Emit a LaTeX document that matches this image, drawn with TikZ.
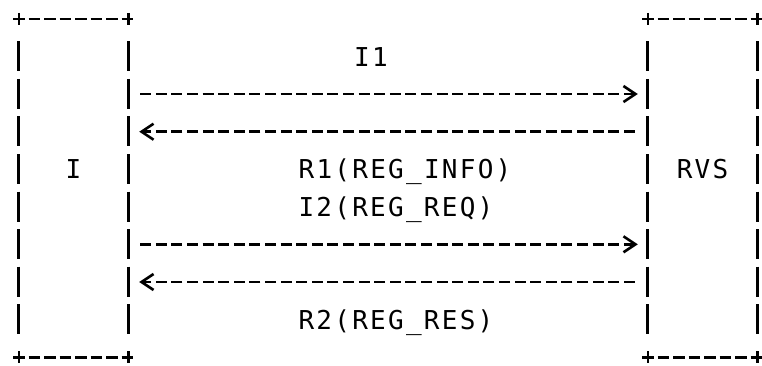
\documentclass[tikz,border=0pt]{standalone}
\usepackage{fontspec}
\setmonofont{DejaVu Sans Mono}[LetterSpace=8.7]
\usetikzlibrary{arrows.meta, positioning}

\newcommand\ttlabel{\ttfamily\fontsize{26}{30}\selectfont}

\begin{document}
\begin{tikzpicture}[
    x=1pt, y=-1pt,
    party/.style={rectangle, minimum width=109pt, minimum height=338pt, inner sep=0pt,
                  text height=19pt, text depth=38pt, font=\ttlabel},
    lbl/.style={inner sep=0pt, anchor=base, font=\ttlabel},
    hedge/.style={line width=2.6pt, dash pattern=on 11.6pt off 3.9pt, shorten <=-5.8pt, shorten >=-5.8pt},
    vedge/.style={line width=2.8pt, dash pattern=on 30pt off 7.56pt, shorten <=22.56pt, shorten >=22.56pt},
    tick/.style={line width=2.6pt},
    msg/.style={line width=2.6pt, dash pattern=on 11pt off 4.6pt, -{Straight Barb[length=12pt,width=16pt,sep=4pt]}},
    msgright/.style={msg, shorten <=12pt, shorten >=6pt},
    msgleft/.style={msg, shorten <=13pt, shorten >=7pt}
]
    \useasboundingbox (0,0) rectangle (762,365);

    % the two parties
    \node[party] (ini) at (73.5,188) {I};
    \node[party] (rvs) at (702.5,188) {RVS};

    % ascii style frames
    \foreach \n in {ini, rvs} {
        \draw[hedge] (\n.north west) -- (\n.north east);
        \draw[hedge] (\n.south west) -- (\n.south east);
        \draw[vedge] (\n.north west) -- (\n.south west);
        \draw[vedge] (\n.north east) -- (\n.south east);
        \foreach \a in {north west, north east, south west, south east}
            \draw[tick] ([yshift=6pt]\n.\a) -- ([yshift=-6pt]\n.\a);
    }

    % messages
    \draw[msgright] ([yshift=94pt]ini.east) -- ([yshift=94pt]rvs.west);
    \draw[msgleft] ([yshift=56.3pt]rvs.west) -- ([yshift=56.3pt]ini.east);
    \draw[msgright] ([yshift=-56.3pt]ini.east) -- ([yshift=-56.3pt]rvs.west);
    \draw[msgleft] ([yshift=-94pt]rvs.west) -- ([yshift=-94pt]ini.east);

    \node[lbl] (i1) at (371,66.5) {I1};
    \node[lbl] (r1) at (405,178.5) {R1(REG\_INFO)};
    \node[lbl] (i2) at (396,216.5) {I2(REG\_REQ)};
    \node[lbl] (r2) at (396,329.5) {R2(REG\_RES)};
\end{tikzpicture}
\end{document}
